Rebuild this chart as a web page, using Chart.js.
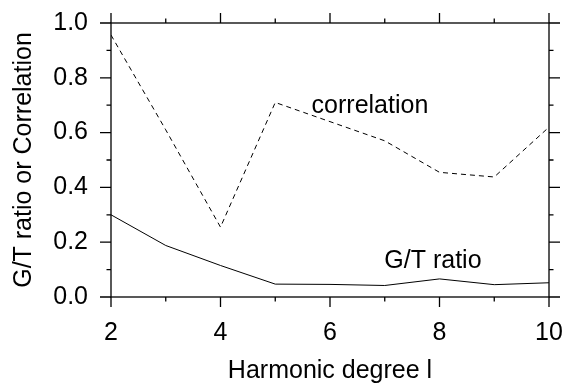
<!DOCTYPE html>
<html>
<head>
<meta charset="utf-8">
<script src="https://cdn.jsdelivr.net/npm/chart.js@4"></script>
<style>
  body { margin: 0; background: #fff; }
  #wrap { width: 565px; height: 383px; }
</style>
</head>
<body>
<div id="wrap"><canvas id="chart" width="565" height="383"></canvas></div>
<script>
const degrees = [2, 3, 4, 5, 6, 7, 8, 9, 10];
const correlation = [0.956, 0.61, 0.255, 0.71, 0.64, 0.57, 0.455, 0.438, 0.62];
const gtRatio = [0.30, 0.188, 0.115, 0.047, 0.046, 0.042, 0.066, 0.045, 0.052];
const xTickValues = [2, 4, 6, 8, 10];
const yTickLabels = ["0.0", "0.2", "0.4", "0.6", "0.8", "1.0"];

const FONT = "'Liberation Sans', Arial, Helvetica, sans-serif";
const FS = 25;

// frame + ticks on all four sides, plus the in-plot labels
const framePlugin = {
    id: "frame",
    afterDraw(chart) {
        const ctx = chart.ctx;
        const x = chart.scales.x, y = chart.scales.y;
        const a = chart.chartArea;
        ctx.save();
        ctx.strokeStyle = "#000";
        ctx.lineWidth = 1.3;
        ctx.strokeRect(a.left, a.top, a.right - a.left, a.bottom - a.top);

        for (let v = 2; v <= 10; v++) {
            const px = x.getPixelForValue(v);
            const len = v % 2 === 0 ? 10 : 4.5;
            ctx.beginPath();
            ctx.moveTo(px, a.bottom); ctx.lineTo(px, a.bottom + len);
            ctx.moveTo(px, a.top); ctx.lineTo(px, a.top - len);
            ctx.stroke();
        }
        for (let i = 0; i <= 10; i++) {
            const py = y.getPixelForValue(i / 10);
            const len = i % 2 === 0 ? 11 : 4.5;
            ctx.beginPath();
            ctx.moveTo(a.left, py); ctx.lineTo(a.left - len, py);
            ctx.moveTo(a.right, py); ctx.lineTo(a.right + len, py);
            ctx.stroke();
        }

        ctx.fillStyle = "#000";
        ctx.font = FS + "px " + FONT;
        ctx.textAlign = "center";
        ctx.textBaseline = "middle";
        ctx.fillText("correlation", x.getPixelForValue(6.73), y.getPixelForValue(0.697));
        ctx.fillText("G/T ratio", x.getPixelForValue(7.88), y.getPixelForValue(0.13));
        ctx.restore();
    }
};

// keep the tick label overflow from shrinking the plot area
function noPad(s) {
    s.paddingTop = 0; s.paddingBottom = 0; s.paddingLeft = 0; s.paddingRight = 0;
}

new Chart(document.getElementById("chart"), {
    type: "line",
    data: {
        datasets: [{
            label: "correlation",
            data: degrees.map((d, i) => ({ x: d, y: correlation[i] })),
            borderColor: "#000",
            borderWidth: 1,
            borderDash: [5, 4],
            pointRadius: 0,
            fill: false,
            tension: 0
        }, {
            label: "G/T ratio",
            data: degrees.map((d, i) => ({ x: d, y: gtRatio[i] })),
            borderColor: "#000",
            borderWidth: 1,
            pointRadius: 0,
            fill: false,
            tension: 0
        }]
    },
    options: {
        responsive: false,
        animation: false,
        layout: { padding: { left: 0, right: 16, top: 23, bottom: 0 } },
        plugins: { legend: { display: false }, tooltip: { enabled: false } },
        scales: {
            x: {
                type: "linear",
                min: 2,
                max: 10,
                afterBuildTicks: s => { s.ticks = xTickValues.map(v => ({ value: v })); },
                ticks: { color: "#000", font: { family: FONT, size: FS }, padding: 21, maxRotation: 0 },
                grid: { display: false, drawTicks: false },
                border: { display: false },
                title: {
                    display: true, text: "Harmonic degree l", color: "#000",
                    font: { family: FONT, size: FS }, padding: { top: 0, bottom: -3 }
                },
                afterFit: s => { s.height = 86; noPad(s); }
            },
            y: {
                min: 0,
                max: 1,
                afterBuildTicks: s => { s.ticks = yTickLabels.map(t => ({ value: parseFloat(t) })); },
                ticks: {
                    color: "#000", font: { family: FONT, size: FS }, padding: 23,
                    callback: (v, i) => yTickLabels[i]
                },
                grid: { display: false, drawTicks: false },
                border: { display: false },
                title: {
                    display: true, text: "G/T ratio or Correlation", color: "#000",
                    font: { family: FONT, size: FS }, padding: { top: 9, bottom: 0 }
                },
                afterFit: s => { s.width = 111; noPad(s); }
            }
        }
    },
    plugins: [framePlugin]
});
</script>
</body>
</html>
